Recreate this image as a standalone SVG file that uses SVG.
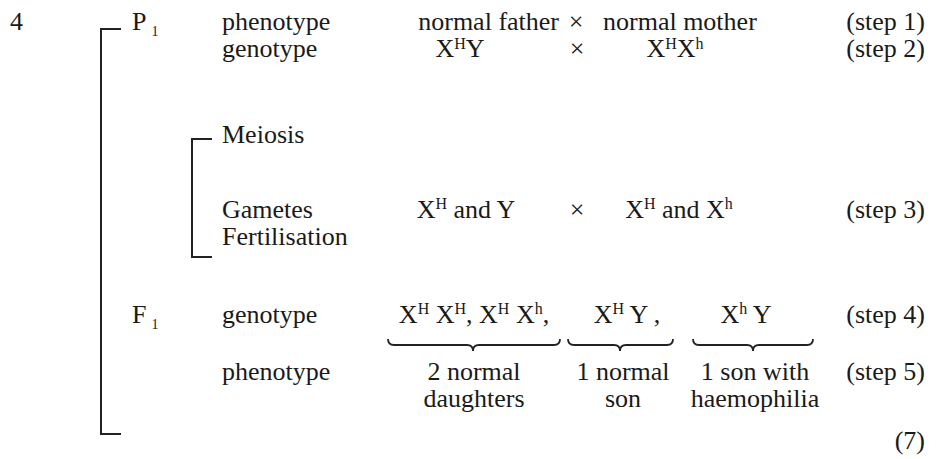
<svg xmlns="http://www.w3.org/2000/svg" width="943" height="459" viewBox="0 0 943 459" font-family="'Liberation Serif', 'Times New Roman', Tinos, 'DejaVu Serif', serif">
<style>
text{font-size:26px;fill:#1a1a1a}
.sup{font-size:16px}
.sub{font-size:14px}
.m{text-anchor:middle}
.e{text-anchor:end}
.br{fill:none;stroke:#222;stroke-width:2}
.brace{fill:none;stroke:#222;stroke-width:1.8}
</style>
<rect width="943" height="459" fill="#fff"/>
<g id="connectors">
<path class="br" d="M121,29 H101 V434 H121"/>
<path class="br" d="M212,139 H192 V257 H212"/>
<path class="brace" d="M388,339 Q388,345 394,345 H467 Q473,345 473,351 Q473,345 479,345 H554 Q560,345 560,339"/>
<path class="brace" d="M568,339 Q568,345 574,345 H614 Q620,345 620,351 Q620,345 626,345 H667 Q673,345 673,339"/>
<path class="brace" d="M693,339 Q693,345 699,345 H747 Q753,345 753,351 Q753,345 759,345 H807 Q813,345 813,339"/>
</g>
<g id="q-number"><text x="10" y="30">4</text></g>
<g id="p1-row">
<text x="132" y="30">P<tspan class="sub" dx="5" dy="6">1</tspan></text>
<text x="222" y="30">phenotype</text>
<text class="e" x="559" y="30">normal father</text>
<text class="m" x="576" y="30">×</text>
<text x="603" y="30">normal mother</text>
<text class="e" x="925" y="30">(step 1)</text>
</g>
<g id="p1-genotype">
<text x="222" y="57">genotype</text>
<text class="m" x="460" y="57">X<tspan class="sup" dy="-8">H</tspan><tspan dy="8">Y</tspan></text>
<text class="m" x="577" y="57">×</text>
<text class="m" x="675" y="57">X<tspan class="sup" dy="-8">H</tspan><tspan dy="8">X</tspan><tspan class="sup" dy="-8">h</tspan></text>
<text class="e" x="925" y="57">(step 2)</text>
</g>
<g id="meiosis"><text x="222" y="143">Meiosis</text></g>
<g id="gametes">
<text x="222" y="218">Gametes</text>
<text class="m" x="466" y="218">X<tspan class="sup" dy="-9">H</tspan><tspan dy="9"> and Y</tspan></text>
<text class="m" x="577" y="218">×</text>
<text class="m" x="679" y="218">X<tspan class="sup" dy="-9">H</tspan><tspan dy="9"> and X</tspan><tspan class="sup" dy="-9">h</tspan></text>
<text class="e" x="925" y="218">(step 3)</text>
</g>
<g id="fertilisation"><text x="222" y="245">Fertilisation</text></g>
<g id="f1-genotype">
<text x="132" y="323">F<tspan class="sub" dx="5" dy="6">1</tspan></text>
<text x="222" y="323">genotype</text>
<text class="m" x="474" y="323">X<tspan class="sup" dy="-9">H</tspan><tspan dy="9"> X</tspan><tspan class="sup" dy="-9">H</tspan><tspan dy="9">, X</tspan><tspan class="sup" dy="-9">H</tspan><tspan dy="9"> X</tspan><tspan class="sup" dy="-9">h</tspan><tspan dy="9">,</tspan></text>
<text class="m" x="627" y="323">X<tspan class="sup" dy="-9">H</tspan><tspan dy="9"> Y ,</tspan></text>
<text class="m" x="746" y="323">X<tspan class="sup" dy="-9">h</tspan><tspan dy="9"> Y</tspan></text>
<text class="e" x="925" y="323">(step 4)</text>
</g>
<g id="f1-phenotype">
<text x="222" y="380">phenotype</text>
<text class="m" x="474" y="380">2 normal</text>
<text class="m" x="474" y="407">daughters</text>
<text class="m" x="623" y="380">1 normal</text>
<text class="m" x="623" y="407">son</text>
<text class="m" x="755" y="380">1 son with</text>
<text class="m" x="755" y="407">haemophilia</text>
<text class="e" x="925" y="380">(step 5)</text>
</g>
<g id="marks"><text class="e" x="925" y="449">(7)</text></g>
</svg>
